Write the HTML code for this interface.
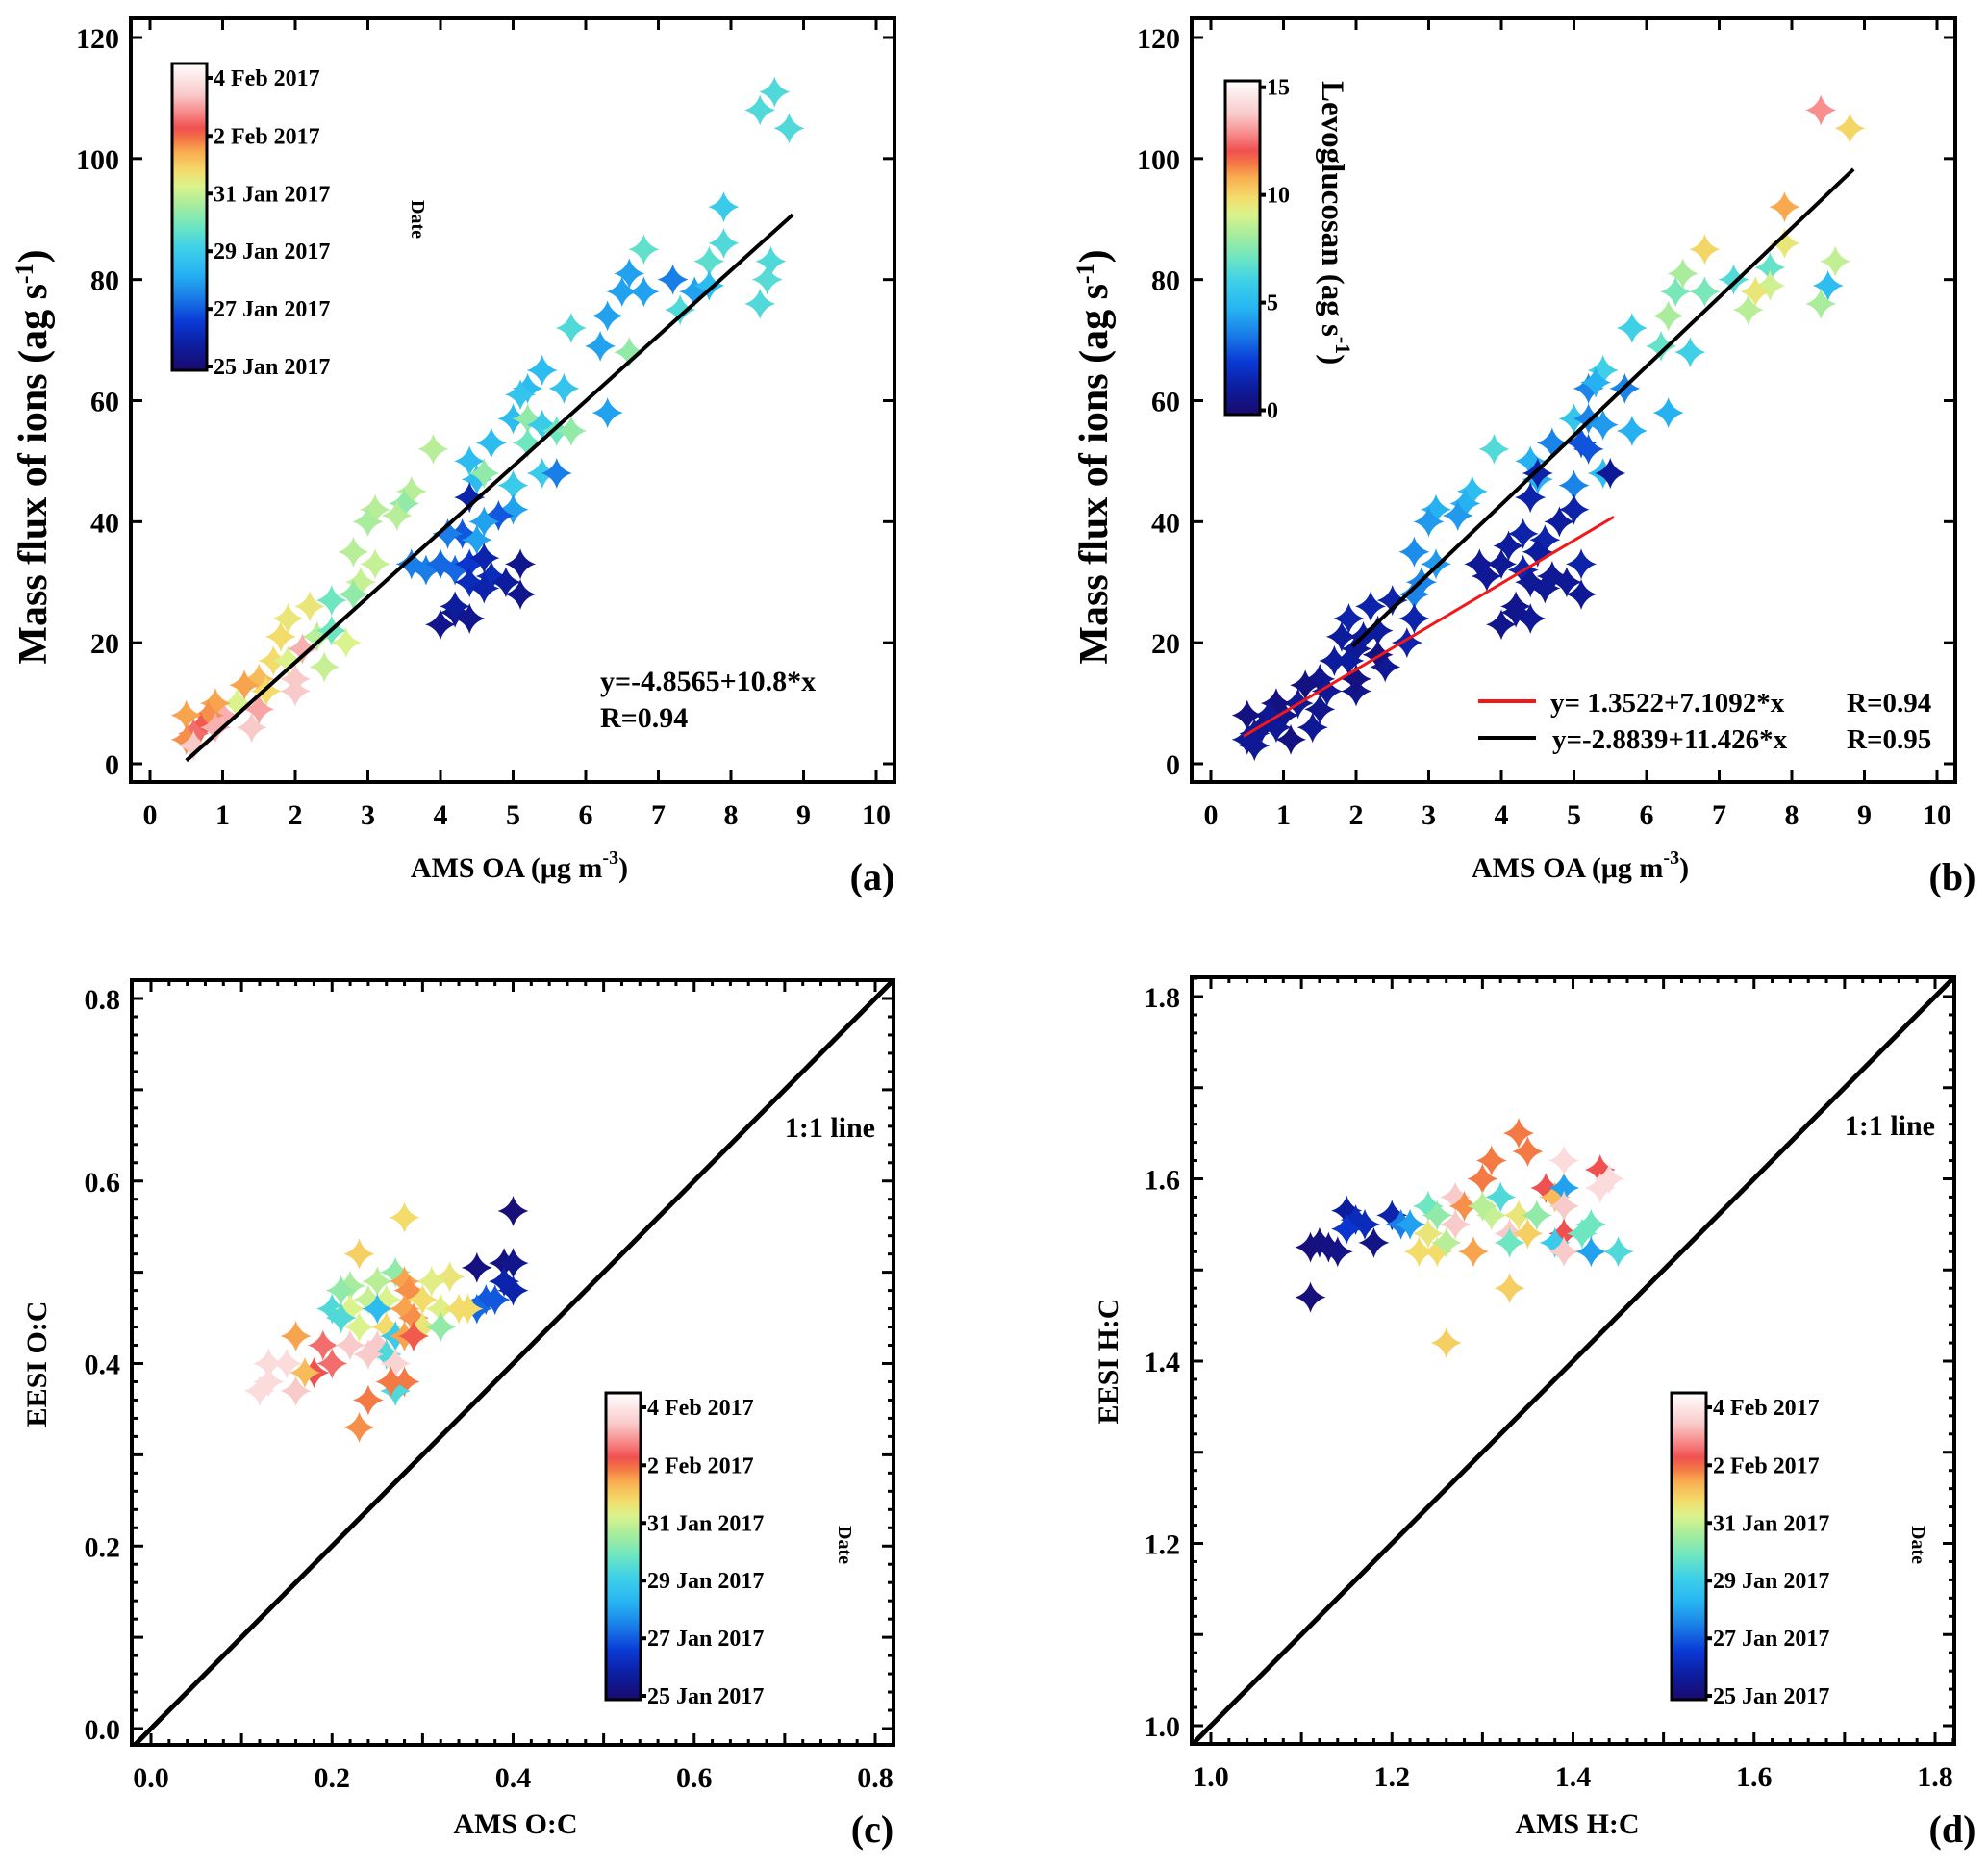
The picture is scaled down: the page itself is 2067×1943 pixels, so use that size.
<!DOCTYPE html>
<html><head><meta charset="utf-8"><style>
html,body{margin:0;padding:0;background:#fff;}
svg{display:block;}
svg text{font-family:"Liberation Serif","Times New Roman",serif;font-weight:bold;}
</style></head><body>
<svg id="fig" width="2067" height="1943" viewBox="0 0 2067 1943" xmlns="http://www.w3.org/2000/svg" font-family="Liberation Serif, serif" font-weight="bold">
<defs>
<linearGradient id="cmap" x1="0" y1="1" x2="0" y2="0">
<stop offset="0" stop-color="#1a0a6e"/><stop offset="0.08" stop-color="#0c1d9e"/><stop offset="0.16" stop-color="#0a3ad6"/><stop offset="0.24" stop-color="#1a7ee8"/><stop offset="0.32" stop-color="#27b6f2"/><stop offset="0.4" stop-color="#3fd0e8"/><stop offset="0.47" stop-color="#6ee6c0"/><stop offset="0.54" stop-color="#a8ec9c"/><stop offset="0.6" stop-color="#dbf38c"/><stop offset="0.65" stop-color="#f3dc6a"/><stop offset="0.71" stop-color="#f9ae52"/><stop offset="0.75" stop-color="#f47a45"/><stop offset="0.79" stop-color="#ef5050"/><stop offset="0.84" stop-color="#f88a8a"/><stop offset="0.9" stop-color="#f9caca"/><stop offset="1" stop-color="#ffffff"/>
</linearGradient>
</defs>
</svg>
<script>
// Panel (a): AMS OA vs mass flux, colour = date fraction
const aX=[8.6,8.4,8.8,7.9,6.8,7.9,7.7,8.55,8.5,8.4,6.6,6.5,6.8,7.2,7.5,7.7,7.3,6.3,5.8,6.2,6.6,5.4,5.2,5.1,5.7,6.3,5.0,5.2,5.4,5.6,5.8,5.2,4.7,3.9,4.4,4.5,4.6,5.4,5.6,5.0,3.6,3.5,3.1,3.4,3.0,4.4,5.0,4.8,4.6,4.3,4.1,4.5,3.6,3.8,4.0,4.2,4.4,4.6,4.7,4.4,4.6,4.9,5.1,5.1,4.2,4.0,4.4,4.2,2.8,3.1,2.9,2.8,2.5,2.2,1.9,2.3,2.5,2.4,2.7,2.1,1.8,1.7,1.9,2.0,2.0,2.1,1.5,1.6,1.3,1.5,1.4,1.2,1.0,0.9,0.8,0.7,0.6,0.5,0.5,0.6,0.9];
const aY=[111,108,105,92,85,86,83,83,80,76,81,78,78,80,78,79,75,74,72,69,68,65,62,61,62,58,57,57,56,55,55,53,53,52,50,47,48,48,48,46,45,43,42,41,40,44,42,41,40,38,38,37,33,32,33,32,33,34,31,30,29,30,33,28,25,23,24,26,35,33,30,28,27,26,24,21,22,16,20,19,21,17,17,12,14,19,14,12,13,9,6,10,8,10,8,6,5,8,4,3,6];
const aC=[0.45,0.45,0.45,0.4,0.48,0.45,0.47,0.45,0.46,0.45,0.3,0.3,0.3,0.25,0.3,0.35,0.45,0.3,0.45,0.3,0.55,0.35,0.35,0.38,0.38,0.3,0.35,0.55,0.4,0.5,0.55,0.5,0.35,0.6,0.35,0.35,0.55,0.4,0.25,0.4,0.6,0.55,0.6,0.6,0.58,0.1,0.3,0.2,0.3,0.2,0.25,0.3,0.25,0.25,0.22,0.22,0.15,0.1,0.12,0.12,0.1,0.08,0.05,0.05,0.05,0.05,0.05,0.08,0.6,0.62,0.62,0.55,0.5,0.68,0.68,0.6,0.5,0.62,0.65,0.5,0.7,0.7,0.65,0.95,0.95,0.93,0.75,0.7,0.78,0.92,0.95,0.65,0.93,0.78,0.8,0.85,0.88,0.78,0.8,0.95,0.93];
// Panel (b): colour = levoglucosan (0-15)
const bX=[8.4,8.8,7.9,6.8,7.9,8.6,7.7,7.7,7.5,7.4,8.5,8.4,7.2,6.5,6.4,6.8,6.3,5.8,6.2,6.6,5.4,5.2,5.3,5.7,6.3,5.0,5.2,5.4,5.8,5.1,5.2,4.7,3.9,4.4,4.5,5.4,5.5,5.0,3.6,3.5,3.1,3.4,3.0,2.8,3.1,2.9,2.8,4.5,4.4,5.0,4.8,4.3,4.1,4.6,3.7,3.8,4.0,4.3,4.5,4.7,4.4,4.6,4.9,5.1,5.1,4.2,4.0,4.4,4.2,2.5,2.2,1.9,2.3,2.1,2.8,2.4,2.7,2.0,1.8,1.7,1.9,2.0,2.0,1.5,1.6,1.3,1.5,1.4,1.2,1.0,1.1,0.9,0.8,0.7,0.6,0.5,0.5,0.6,0.9,2.3];
const bY=[108,105,92,85,86,83,82,79,78,75,79,76,80,81,78,78,74,72,69,68,65,62,63,62,58,57,57,56,55,53,52,53,52,50,47,48,48,46,45,43,42,41,40,35,33,30,28,48,44,42,40,38,36,37,33,31,33,32,35,31,30,29,30,33,28,25,23,24,26,27,26,24,22,21,24,16,20,19,21,17,17,12,14,14,12,13,9,6,10,8,4,10,8,6,5,8,4,3,6,18];
const bC=[14,11,12,11,10.5,9.5,7.5,9.8,10.5,9.3,5.5,9,7,9,8,8,9,6.5,7.5,6.5,6.5,4,5,4,5,6,4,4.5,5,3,3,4,7,5,5,5.5,1,4,5.5,5,5,4.5,4.5,4.2,4.5,4,4,1.5,1.5,1.5,1.2,1.5,1.2,1.5,1,1,1,1.5,1.2,1,1,1,1,1.5,1,0.8,0.8,1,0.8,1.5,1.5,1.5,1.2,1.2,1.5,1,1.5,1,1.2,1.2,1.2,0.8,0.5,0.8,1,0.5,0.8,1,1,0.8,0.5,0.5,1,0.8,1,0.5,1,1,1,0.5];
// Panel (c): O:C
const cX=[0.4,0.36,0.39,0.4,0.39,0.4,0.37,0.38,0.36,0.28,0.23,0.33,0.31,0.27,0.25,0.22,0.21,0.28,0.285,0.24,0.26,0.3,0.2,0.22,0.25,0.28,0.29,0.32,0.34,0.35,0.21,0.23,0.26,0.3,0.32,0.27,0.28,0.29,0.16,0.19,0.2,0.18,0.22,0.25,0.26,0.24,0.13,0.15,0.13,0.12,0.16,0.17,0.27,0.28,0.27,0.265,0.24,0.23];
const cY=[0.567,0.505,0.51,0.51,0.49,0.48,0.47,0.47,0.46,0.56,0.52,0.495,0.49,0.5,0.49,0.485,0.48,0.49,0.48,0.47,0.47,0.47,0.46,0.46,0.46,0.46,0.45,0.46,0.46,0.46,0.45,0.44,0.44,0.44,0.44,0.43,0.43,0.43,0.43,0.42,0.4,0.39,0.42,0.42,0.41,0.41,0.4,0.4,0.38,0.37,0.37,0.39,0.4,0.38,0.37,0.38,0.36,0.33];
const cC=[0.02,0.03,0.03,0.05,0.1,0.1,0.2,0.2,0.22,0.7,0.72,0.68,0.66,0.55,0.6,0.58,0.55,0.78,0.8,0.62,0.65,0.7,0.45,0.65,0.35,0.78,0.8,0.66,0.7,0.7,0.45,0.65,0.7,0.68,0.55,0.4,0.78,0.85,0.78,0.88,0.88,0.86,0.95,0.95,0.45,0.95,0.97,0.97,0.97,0.97,0.95,0.75,0.96,0.82,0.45,0.82,0.82,0.8];
// Panel (d): H:C
const dX=[1.11,1.11,1.12,1.13,1.14,1.18,1.15,1.16,1.17,1.15,1.2,1.21,1.22,1.24,1.25,1.24,1.23,1.25,1.26,1.27,1.28,1.27,1.29,1.3,1.31,1.34,1.35,1.32,1.31,1.33,1.33,1.34,1.35,1.37,1.38,1.39,1.39,1.39,1.39,1.38,1.39,1.41,1.42,1.42,1.43,1.44,1.43,1.45,1.33,1.26,1.36,1.3];
const dY=[1.47,1.525,1.53,1.525,1.52,1.53,1.565,1.555,1.55,1.545,1.56,1.55,1.55,1.57,1.56,1.54,1.52,1.52,1.53,1.58,1.57,1.55,1.52,1.6,1.62,1.65,1.63,1.58,1.56,1.54,1.53,1.56,1.54,1.59,1.58,1.59,1.62,1.57,1.54,1.53,1.52,1.54,1.55,1.52,1.61,1.6,1.59,1.52,1.48,1.42,1.56,1.57];
const dC=[0.02,0.02,0.03,0.03,0.04,0.04,0.08,0.12,0.12,0.15,0.1,0.25,0.3,0.5,0.55,0.68,0.7,0.7,0.6,0.95,0.8,0.95,0.78,0.82,0.82,0.82,0.82,0.45,0.62,0.95,0.5,0.68,0.72,0.86,0.75,0.3,0.97,0.95,0.86,0.4,0.95,0.5,0.5,0.3,0.86,0.97,0.97,0.45,0.72,0.72,0.55,0.6];
const xTicksOA=[0,1,2,3,4,5,6,7,8,9,10];
const yTicksFlux=[0,20,40,60,80,100,120];
const ticksOC=["0.0","0.2","0.4","0.6","0.8"];
const ticksHC=["1.0","1.2","1.4","1.6","1.8"];
const dateLabels=["25 Jan 2017","27 Jan 2017","29 Jan 2017","31 Jan 2017","2 Feb 2017","4 Feb 2017"];
const levTicks=[0,5,10,15];

const NS="http://www.w3.org/2000/svg";
const svg=document.getElementById('fig');
const stops=[[0,[26,10,110]],[0.08,[12,29,158]],[0.16,[10,58,214]],[0.25,[26,126,232]],[0.33,[39,182,242]],[0.42,[63,208,232]],[0.5,[110,230,192]],[0.58,[168,236,156]],[0.65,[219,243,140]],[0.7,[243,220,106]],[0.77,[249,174,82]],[0.82,[244,122,69]],[0.86,[239,80,80]],[0.9,[248,138,138]],[0.95,[249,202,202]],[1,[255,245,245]]];
function cmap(t){t=Math.max(0,Math.min(1,t));for(let i=1;i<stops.length;i++){if(t<=stops[i][0]){const a=stops[i-1],b=stops[i];const f=(t-a[0])/(b[0]-a[0]);const c=a[1].map((v,k)=>Math.round(v+(b[1][k]-v)*f));return `rgb(${c[0]},${c[1]},${c[2]})`;}}return 'rgb(255,255,255)';}
function el(tag,attrs,parent){const e=document.createElementNS(NS,tag);for(const k in attrs)e.setAttribute(k,attrs[k]);(parent||svg).appendChild(e);return e;}
function txt(s,attrs,parent){attrs['font-family']='Liberation Serif, Times New Roman, serif';attrs['font-weight']='bold';const e=el('text',attrs,parent);e.textContent=s;return e;}

function panel(cfg){
  const g=el('g',{});
  
  
  const sx=v=>cfg.px0+(v-cfg.x0)/(cfg.x1-cfg.x0)*(cfg.px1-cfg.px0);
  const sy=v=>cfg.py0+(v-cfg.y0)/(cfg.y1-cfg.y0)*(cfg.py1-cfg.py0);
  const F=cfg.frame;
  const clipId='clip-'+cfg.name;
  const cp=el('clipPath',{id:clipId},g);el('rect',{x:F[0],y:F[1],width:F[2]-F[0],height:F[3]-F[1]},cp);
  const plot=el('g',{'clip-path':`url(#${clipId})`},g);
  const s=16,q=0.23*s;
  for(let i=0;i<cfg.xs.length;i++){
    const x=sx(cfg.xs[i]),y=sy(cfg.ys[i]);
    const p=el('path',{d:`M${x},${y-s} Q${x+q},${y-q} ${x+s},${y} Q${x+q},${y+q} ${x},${y+s} Q${x-q},${y+q} ${x-s},${y} Q${x-q},${y-q} ${x},${y-s}Z`,fill:cmap(cfg.cs[i]/cfg.cmax)},plot);
    
    
  }
  cfg.lines.forEach(L=>{
    const l=el('line',{x1:sx(L.xa),y1:sy(L.b+L.m*L.xa),x2:sx(L.xb),y2:sy(L.b+L.m*L.xb),stroke:L.c,'stroke-width':L.w},plot);
    
    
  });
  const fr=el('rect',{x:F[0],y:F[1],width:F[2]-F[0],height:F[3]-F[1],fill:'none',stroke:'#000','stroke-width':4},g);
  
  
  const tk=(v,len,axis)=>{
    if(axis==='x'){const x=sx(v);el('line',{x1:x,y1:F[3],x2:x,y2:F[3]-len,stroke:'#000','stroke-width':3},g);el('line',{x1:x,y1:F[1],x2:x,y2:F[1]+len,stroke:'#000','stroke-width':3},g);}
    else{const y=sy(v);el('line',{x1:F[0],y1:y,x2:F[0]+len,y2:y,stroke:'#000','stroke-width':3},g);el('line',{x1:F[2],y1:y,x2:F[2]-len,y2:y,stroke:'#000','stroke-width':3},g);}
  };
  if(cfg.minor){
    for(let v=cfg.xmin;v<=cfg.xmax+1e-9;v+=cfg.minor){const r=Math.round(v/cfg.minor);tk(v,(r%5===0)?12:6,'x');}
    for(let v=cfg.ymin;v<=cfg.ymax+1e-9;v+=cfg.minor){const r=Math.round(v/cfg.minor);tk(v,(r%5===0)?12:6,'y');}
  } else {
    cfg.xt.forEach(v=>tk(+v,12,'x'));
    for(let v=0;v<=120;v+=10)tk(v,v%20===0?12:0,'y');
  }
  cfg.xt.forEach(v=>{const t=txt(String(v),{x:sx(+v),y:F[3]+44,'font-size':30,'text-anchor':'middle'},g);});
  cfg.yt.forEach(v=>{const t=txt(String(v),{x:F[0]-12,y:sy(+v)+11,'font-size':30,'text-anchor':'end'},g);});
  return {g,sx,sy};
}

function colorbar(g,x,y0,y1,labels,fracs,nm){
  const r=el('rect',{x:x,y:y0,width:36,height:y1-y0,fill:'url(#cmap)',stroke:'#000','stroke-width':3},g);
  
  
  labels.forEach((s,i)=>{const y=y1-fracs[i]*(y1-y0);el('line',{x1:x+36,y1:y,x2:x+42,y2:y,stroke:'#000','stroke-width':4},g);
    const t=txt(s,{x:x+43,y:y+8,'font-size':24},g);});
}
const dateFr=[0.0125,0.2,0.388,0.576,0.764,0.953];
function sup(base,supTxt,after,fs){return base+'<tspan dy="-14" font-size="'+fs+'">'+supTxt+'</tspan><tspan dy="14">'+after+'</tspan>';}

// (a)
const A=panel({name:'panel-a',xs:aX,ys:aY,cs:aC,cmax:1,x0:0,x1:10,px0:156,px1:911,y0:0,y1:120,py0:794,py1:39,frame:[136,19,930,813],xt:xTicksOA,yt:yTicksFlux,
  lines:[{xa:0.5,xb:8.85,b:-4.8565,m:10.8,c:'#000',w:4,name:'fit-line'}]});
colorbar(A.g,179,66,385,dateLabels,dateFr,'date-colorbar');
txt('Date',{x:0,y:0,'font-size':20,transform:'translate(428,208) rotate(90)'},A.g);
txt('y=-4.8565+10.8*x',{x:624,y:718,'font-size':30},A.g);
txt('R=0.94',{x:624,y:756,'font-size':30},A.g);
txt('',{x:0,y:0,'font-size':42,'text-anchor':'middle',transform:'translate(48,475) rotate(-90)'},A.g).innerHTML=sup('Mass flux of ions (ag s','-1',')',26);
txt('',{x:540,y:912,'font-size':30,'text-anchor':'middle'},A.g).innerHTML=sup('AMS OA (μg m','-3',')',20);
txt('(a)',{x:907,y:925,'font-size':40,'text-anchor':'middle'},A.g);

// (b)
const B=panel({name:'panel-b',xs:bX,ys:bY,cs:bC,cmax:15.5,x0:0,x1:10,px0:1259,px1:2014,y0:0,y1:120,py0:794,py1:39,frame:[1239,19,2033,813],xt:xTicksOA,yt:yTicksFlux,
  lines:[{xa:0.45,xb:5.55,b:1.3522,m:7.1092,c:'#f01818',w:3,name:'red-fit-line'},{xa:1.95,xb:8.85,b:-2.8839,m:11.426,c:'#000',w:4,name:'black-fit-line'}]});
colorbar(B.g,1274,84,431,levTicks.map(String),levTicks.map(v=>(v+0.2)/15.5),'levoglucosan-colorbar');
txt('',{x:0,y:0,'font-size':33,transform:'translate(1375,84) rotate(90)'},B.g).innerHTML=sup('Levoglucosan (ag s','-1',')',22);
el('line',{x1:1537,y1:729,x2:1597,y2:729,stroke:'#f01818','stroke-width':4},B.g);
el('line',{x1:1537,y1:767,x2:1597,y2:767,stroke:'#000','stroke-width':4},B.g);
txt('y= 1.3522+7.1092*x',{x:1612,y:740,'font-size':29},B.g);
txt('R=0.94',{x:1920,y:740,'font-size':29},B.g);
txt('y=-2.8839+11.426*x',{x:1614,y:778,'font-size':29},B.g);
txt('R=0.95',{x:1920,y:778,'font-size':29},B.g);
txt('',{x:0,y:0,'font-size':42,'text-anchor':'middle',transform:'translate(1151,475) rotate(-90)'},B.g).innerHTML=sup('Mass flux of ions (ag s','-1',')',26);
txt('',{x:1643,y:912,'font-size':30,'text-anchor':'middle'},B.g).innerHTML=sup('AMS OA (μg m','-3',')',20);
txt('(b)',{x:2030,y:925,'font-size':40,'text-anchor':'middle'},B.g);

// (c)
const C=panel({name:'panel-c',xs:cX,ys:cY,cs:cC,cmax:1,x0:0,x1:0.8,px0:157,px1:910,y0:0,y1:0.8,py0:1797,py1:1038,frame:[137,1019,929,1814],xt:ticksOC,yt:ticksOC,minor:0.02,xmin:0,xmax:0.82,ymin:0,ymax:0.82,
  lines:[{xa:-0.03,xb:0.83,b:0,m:1,c:'#000',w:5,name:'one-to-one-line'}]});
colorbar(C.g,630,1448,1767,dateLabels,dateFr,'date-colorbar');
txt('Date',{x:0,y:0,'font-size':20,transform:'translate(872,1586) rotate(90)'},C.g);
txt('1:1 line',{x:910,y:1182,'font-size':30,'text-anchor':'end'},C.g);
txt('EESI O:C',{x:0,y:0,'font-size':30,'text-anchor':'middle',transform:'translate(48,1418) rotate(-90)'},C.g);
txt('AMS O:C',{x:536,y:1906,'font-size':30,'text-anchor':'middle'},C.g);
txt('(c)',{x:907,y:1915,'font-size':40,'text-anchor':'middle'},C.g);

// (d)
const D=panel({name:'panel-d',xs:dX,ys:dY,cs:dC,cmax:1,x0:1,x1:1.8,px0:1259,px1:2012,y0:1,y1:1.8,py0:1794,py1:1036,frame:[1239,1016,2032,1813],xt:ticksHC,yt:ticksHC,minor:0.02,xmin:1,xmax:1.82,ymin:1,ymax:1.82,
  lines:[{xa:0.97,xb:1.83,b:0,m:1,c:'#000',w:5,name:'one-to-one-line'}]});
colorbar(D.g,1738,1448,1767,dateLabels,dateFr,'date-colorbar');
txt('Date',{x:0,y:0,'font-size':20,transform:'translate(1988,1586) rotate(90)'},D.g);
txt('1:1 line',{x:2012,y:1180,'font-size':30,'text-anchor':'end'},D.g);
txt('EESI H:C',{x:0,y:0,'font-size':30,'text-anchor':'middle',transform:'translate(1162,1415) rotate(-90)'},D.g);
txt('AMS H:C',{x:1640,y:1906,'font-size':30,'text-anchor':'middle'},D.g);
txt('(d)',{x:2030,y:1915,'font-size':40,'text-anchor':'middle'},D.g);
</script>
</body></html>
